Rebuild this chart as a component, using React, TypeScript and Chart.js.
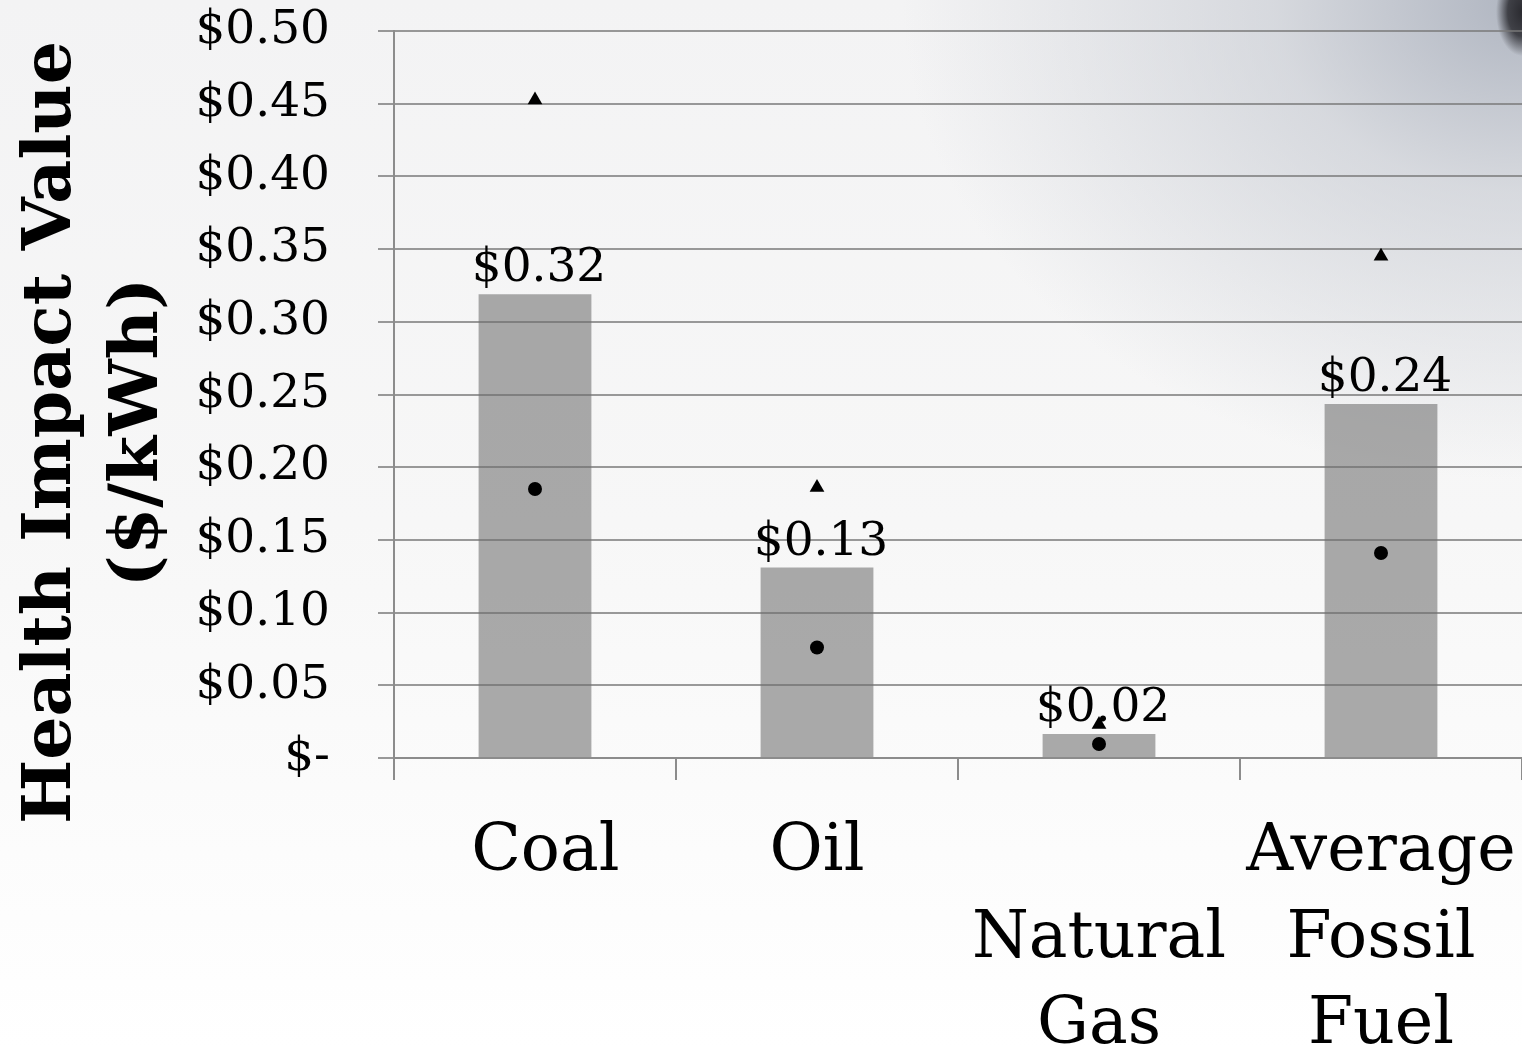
import React, { useEffect, useRef } from "react";
import { Chart, registerables } from "chart.js";

Chart.register(...registerables);

const categories: string[][] = [[" Coal"], ["Oil"], ["", "Natural", "Gas"], ["Average", "Fossil", "Fuel"]];
const barValues: number[] = [0.319, 0.131, 0.0165, 0.2435];
const barLabels: string[] = ["$0.32", "$0.13", "$0.02", "$0.24"];
const highValues: number[] = [0.4525, 0.186, 0.023, 0.345];
const lowValues: number[] = [0.185, 0.076, 0.0096, 0.141];
const yMin = 0;
const yMax = 0.5;
const yStep = 0.05;
const yTitleLines: string[] = ["Health Impact Value", "($/kWh)"];

const SERIF = "'DejaVu Serif', 'Liberation Serif', serif";

const barLabelPlugin = {
  id: "barLabels",
  afterDatasetsDraw(chart: any) {
    const ctx = chart.ctx;
    const meta = chart.getDatasetMeta(0);
    ctx.save();
    ctx.font = `47px ${SERIF}`;
    ctx.fillStyle = "#000";
    ctx.textAlign = "center";
    ctx.textBaseline = "alphabetic";
    meta.data.forEach((el: any, i: number) => {
      ctx.fillText(barLabels[i], el.x + 4, el.y - 13);
    });
    ctx.restore();
  },
};

const yTitlePlugin = {
  id: "yTitle",
  afterDraw(chart: any) {
    const ctx = chart.ctx;
    const area = chart.chartArea;
    const cy = area.top + (area.bottom - area.top) / 2 + 38;
    ctx.save();
    ctx.font = `bold 68px ${SERIF}`;
    ctx.fillStyle = "#000";
    ctx.textAlign = "center";
    ctx.textBaseline = "alphabetic";
    const baselines = [70, 157];
    yTitleLines.forEach((line, i) => {
      ctx.save();
      ctx.translate(baselines[i], cy);
      ctx.rotate(-Math.PI / 2);
      ctx.fillText(line, 0, 0);
      ctx.restore();
    });
    ctx.restore();
  },
};

export default function App() {
  const ref = useRef<HTMLCanvasElement | null>(null);

  useEffect(() => {
    document.body.style.margin = "0";
    const canvas = ref.current;
    if (!canvas) return;
    const chart = new Chart(canvas, {
      type: "bar",
      data: {
        labels: categories,
        datasets: [
          {
            type: "bar",
            label: "Health Impact",
            data: barValues,
            backgroundColor: "rgba(110,110,110,0.58)",
            borderWidth: 0,
            barPercentage: 0.4,
            categoryPercentage: 1,
            order: 2,
          } as any,
          {
            type: "line",
            label: "High",
            data: highValues,
            showLine: false,
            pointStyle: "triangle",
            pointRadius: 8.5,
            pointBackgroundColor: "#000",
            pointBorderWidth: 0,
            borderColor: "#000",
            order: 1,
          } as any,
          {
            type: "line",
            label: "Low",
            data: lowValues,
            showLine: false,
            pointStyle: "circle",
            pointRadius: 7,
            pointBackgroundColor: "#000",
            pointBorderWidth: 0,
            borderColor: "#000",
            order: 1,
          } as any,
        ],
      },
      options: {
        animation: false,
        responsive: true,
        maintainAspectRatio: false,
        layout: { autoPadding: false, padding: { top: 31, right: 0, left: 0, bottom: 0 } },
        plugins: {
          legend: { display: false },
          tooltip: { enabled: false },
        },
        scales: {
          x: {
            offset: true,
            grid: {
              offset: true,
              drawOnChartArea: false,
              drawTicks: true,
              tickLength: 22,
              color: "#8c8c8c",
              lineWidth: 2,
            },
            border: { display: true, color: "#8c8c8c", width: 2 },
            ticks: {
              color: "#000",
              font: { family: SERIF, size: 65, lineHeight: 1.33 },
              padding: 30,
              maxRotation: 0,
              minRotation: 0,
              autoSkip: false,
            },
            afterFit(scale: any) {
              scale.height = 290;
              scale.paddingLeft = 0;
              scale.paddingRight = 0;
            },
          },
          y: {
            min: yMin,
            max: yMax,
            ticks: {
              stepSize: yStep,
              color: "#000",
              font: { family: SERIF, size: 47 },
              padding: 48,
              callback: (v: any) => (Number(v) === 0 ? "$-" : "$" + Number(v).toFixed(2)),
            },
            grid: {
              color: "rgba(120,120,120,0.75)",
              lineWidth: 2,
              tickLength: 16,
            },
            border: { display: true, color: "#8c8c8c", width: 2 },
            afterFit(scale: any) {
              scale.width = 394;
              scale.paddingTop = 0;
              scale.paddingBottom = 0;
            },
          },
        },
      } as any,
      plugins: [barLabelPlugin, yTitlePlugin],
    });
    return () => chart.destroy();
  }, []);

  return (
    <div
      style={{
        position: "fixed",
        left: 0,
        top: 0,
        width: 1522,
        height: 1048,
        background:
          "radial-gradient(ellipse 26px 44px at 1522px 12px, rgba(35,35,40,0.95) 0%, rgba(35,35,40,0.8) 55%, rgba(60,62,70,0) 100%), " +
          "radial-gradient(ellipse 620px 480px at 1522px 0px, rgba(172,178,190,0.95) 0%, rgba(195,199,207,0.6) 40%, rgba(235,236,239,0) 100%), " +
          "linear-gradient(to bottom, #f3f3f4 0%, #f7f7f7 50%, #ffffff 100%)",
      }}
    >
      <canvas ref={ref} style={{ width: "1522px", height: "1048px" }} />
    </div>
  );
}
